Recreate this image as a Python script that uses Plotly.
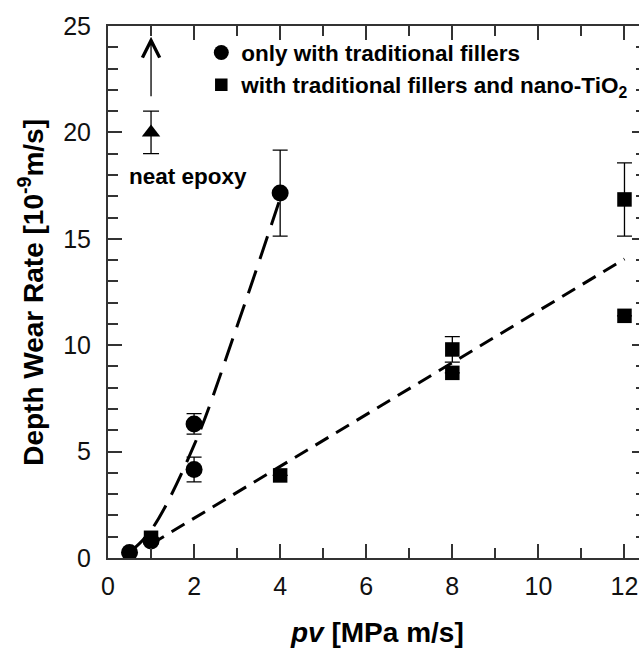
import plotly.graph_objects as go

# ---- data ----
# only with traditional fillers (circles)
trad_x = [0.5, 1, 2, 2, 4]
trad_y = [0.26, 0.8, 4.16, 6.3, 17.15]
trad_err = [None, None, 0.58, 0.48, 2.02]

# with traditional fillers and nano-TiO2 (squares)
nano_x = [1, 4, 8, 8, 12, 12]
nano_y = [0.95, 3.88, 9.8, 8.7, 16.85, 11.38]
nano_err = [None, None, 0.6, None, 1.72, None]

# neat epoxy (triangle)
neat_x = [1]
neat_y = [20.0]
neat_err = [1.0]
neat_arrow_from = 21.3
neat_arrow_to = 24.5

# trend lines
trend_trad_x = [0.5, 1, 2, 3, 4]
trend_trad_y = [0.26, 1.3, 5.3, 10.9, 16.9]
trend_nano_x = [1, 12]
trend_nano_y = [0.65, 14.05]

x_ticks = [0, 2, 4, 6, 8, 10, 12]
y_ticks = [0, 5, 10, 15, 20, 25]

FONT = "Liberation Sans, Arial, sans-serif"
AX = "#333333"

fig = go.Figure()

fig.add_trace(go.Scatter(x=trend_trad_x, y=trend_trad_y, mode="lines", line_shape="spline",
                         line=dict(color="black", width=3, dash="24px,12px"), showlegend=False,
                         hoverinfo="skip"))
fig.add_trace(go.Scatter(x=trend_nano_x, y=trend_nano_y, mode="lines",
                         line=dict(color="black", width=3, dash="15px,9px"), showlegend=False,
                         hoverinfo="skip"))

fig.add_trace(go.Scatter(x=nano_x, y=nano_y, mode="markers",
                         marker=dict(symbol="square", size=14.5, color="black"),
                         error_y=dict(type="data", array=nano_err, visible=True, color="black",
                                      thickness=1.3, width=7.5),
                         showlegend=False))
fig.add_trace(go.Scatter(x=trad_x, y=trad_y, mode="markers",
                         marker=dict(symbol="circle", size=17, color="black"),
                         error_y=dict(type="data", array=trad_err, visible=True, color="black",
                                      thickness=1.3, width=7.5),
                         showlegend=False))
fig.add_trace(go.Scatter(x=neat_x, y=neat_y, mode="markers",
                         marker=dict(symbol="triangle-up", size=16, color="black"),
                         error_y=dict(type="data", array=neat_err, visible=True, color="black",
                                      thickness=1.3, width=8),
                         showlegend=False))

# legend entries
fig.add_trace(go.Scatter(x=[None], y=[None], mode="markers",
                         marker=dict(symbol="circle", size=15, color="black"),
                         name="<b>only with traditional fillers</b>"))
fig.add_trace(go.Scatter(x=[None], y=[None], mode="markers",
                         marker=dict(symbol="square", size=12.5, color="black"),
                         name="<b>with traditional fillers and nano-TiO<sub>2</sub></b>"))

fig.add_annotation(x=neat_x[0], y=neat_arrow_to, ax=neat_x[0], ay=neat_arrow_from,
                   xref="x", yref="y", axref="x", ayref="y", text=" ", showarrow=True,
                   arrowhead=5, arrowsize=2.6, arrowwidth=1.3, arrowcolor="black")
fig.add_annotation(x=1.87, y=17.95, xref="x", yref="y", text="<b>neat epoxy</b>",
                   showarrow=False, font=dict(family=FONT, size=22.5, color="black"))

fig.add_annotation(x=0.5, y=-0.1396, xref="paper", yref="paper",
                   text="<b><i>pv</i> [MPa m/s]</b>", showarrow=False,
                   xanchor="center", yanchor="middle",
                   font=dict(family=FONT, size=28, color="black"))
fig.add_annotation(x=-0.1435, y=0.5, xref="paper", yref="paper", textangle=-90,
                   text="<b>Depth Wear Rate [10<sup>-9</sup>m/s]</b>", showarrow=False,
                   xanchor="center", yanchor="middle",
                   font=dict(family=FONT, size=28, color="black"))

axis_common = dict(showline=True, linecolor=AX, linewidth=2, mirror="allticks",
                   ticks="inside", ticklen=14, tickwidth=1.5, tickcolor=AX,
                   showgrid=False, zeroline=False,
                   tickfont=dict(family=FONT, size=25, color="#111111"))

fig.update_xaxes(range=[0, 12.5], tickvals=x_ticks, ticktext=[str(v) for v in x_ticks],
                 minor=dict(dtick=1, tick0=0, ticks="inside", ticklen=10, tickwidth=1.5,
                            tickcolor=AX, showgrid=False),
                 ticklabelstandoff=5, **axis_common)
fig.update_yaxes(range=[0, 25], tickvals=y_ticks, ticktext=[str(v) for v in y_ticks],
                 minor=dict(dtick=1, tick0=0, ticks="inside", ticklen=10, tickwidth=1.5,
                            tickcolor=AX, showgrid=False),
                 ticklabelstandoff=10, **axis_common)

fig.update_layout(width=660, height=655,
                  margin=dict(l=108, r=13, t=21, b=97, pad=0),
                  paper_bgcolor="white", plot_bgcolor="white",
                  font=dict(family=FONT, color="black"),
                  showlegend=True,
                  legend=dict(x=0.1734, y=0.990, xanchor="left", yanchor="top",
                              bgcolor="rgba(0,0,0,0)", borderwidth=0,
                              font=dict(family=FONT, size=22.5, color="black"),
                              itemsizing="trace", tracegroupgap=0))

fig.write_html("out.html",
               post_script="document.documentElement.style.overflow='hidden';"
                           "document.body.style.overflow='hidden';")
